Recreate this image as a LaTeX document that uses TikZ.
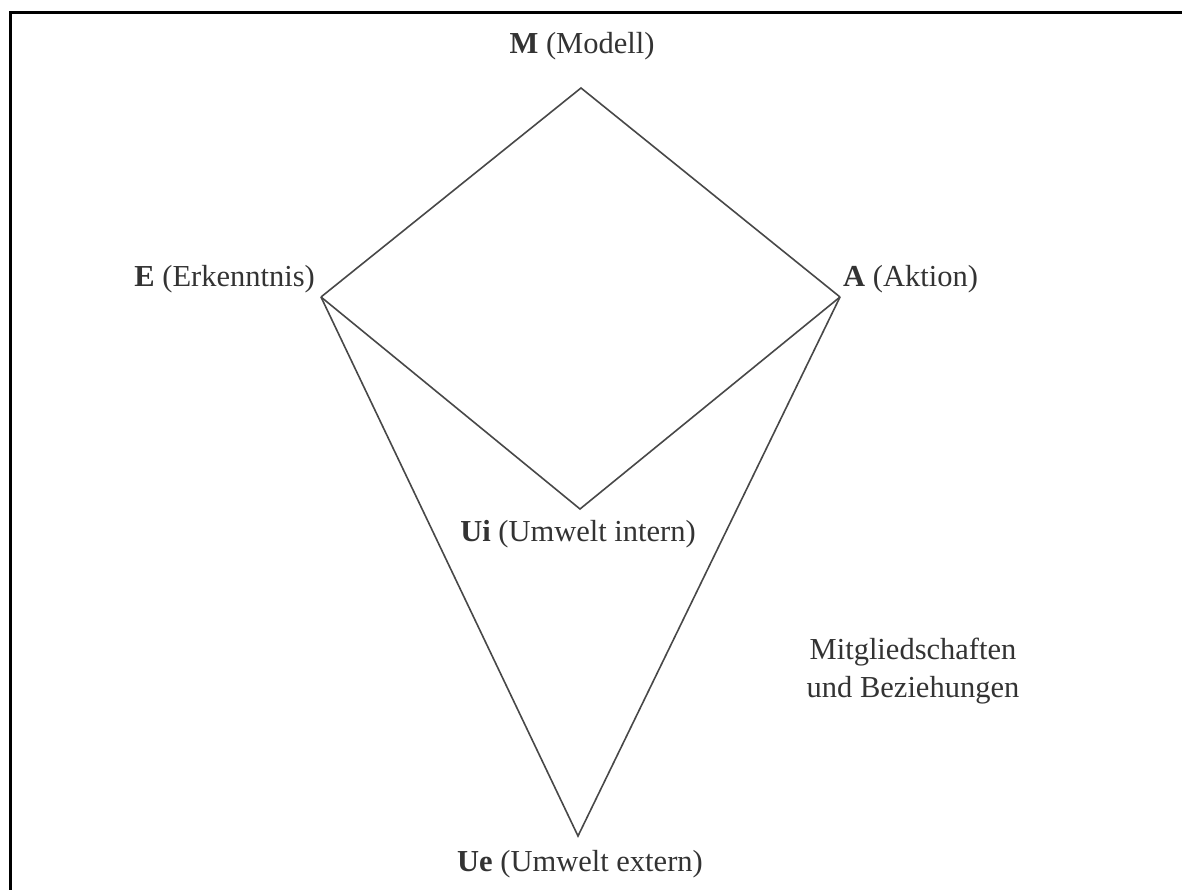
\documentclass[tikz,border=0pt]{standalone}
\usepackage{fontspec}
\setmainfont{Liberation Serif}
\definecolor{linegray}{HTML}{484848}
\definecolor{textgray}{HTML}{333333}
\begin{document}
\begin{tikzpicture}[x=1pt,y=-1pt,
  edge/.style={draw=linegray, line width=1.6pt, line join=miter},
  lbl/.style={text=textgray, font=\fontsize{30.5}{38}\selectfont, inner sep=0pt},
  frameline/.style={draw=black, line width=3pt}]
\useasboundingbox (0,0) rectangle (1182,890);
\fill[white] (0,0) rectangle (1182,890);
\draw[frameline] (10,890) -- (10,13) -- (1182,13);
\coordinate (M) at (581,88);
\coordinate (E) at (321,297);
\coordinate (A) at (840,297);
\coordinate (Ui) at (580,509);
\coordinate (Ue) at (578,836);
\draw[edge] (E) -- (M) -- (A);
\draw[edge] (E) -- (Ui) -- (A);
\draw[edge] (E) -- (Ue) -- (A);
\node[lbl] (lM) at (582,46) {\textbf{M} (Modell)};
\node[lbl, anchor=east] (lE) at (315,279) {\textbf{E} (Erkenntnis)};
\node[lbl, anchor=west] (lA) at (843,279) {\textbf{A} (Aktion)};
\node[lbl] (lUi) at (578,534) {\textbf{Ui} (Umwelt intern)};
\node[lbl] (lUe) at (580,864) {\textbf{Ue} (Umwelt extern)};
\node[lbl, align=center] (lMB) at (913,671) {Mitgliedschaften\\und Beziehungen};
\end{tikzpicture}
\end{document}
